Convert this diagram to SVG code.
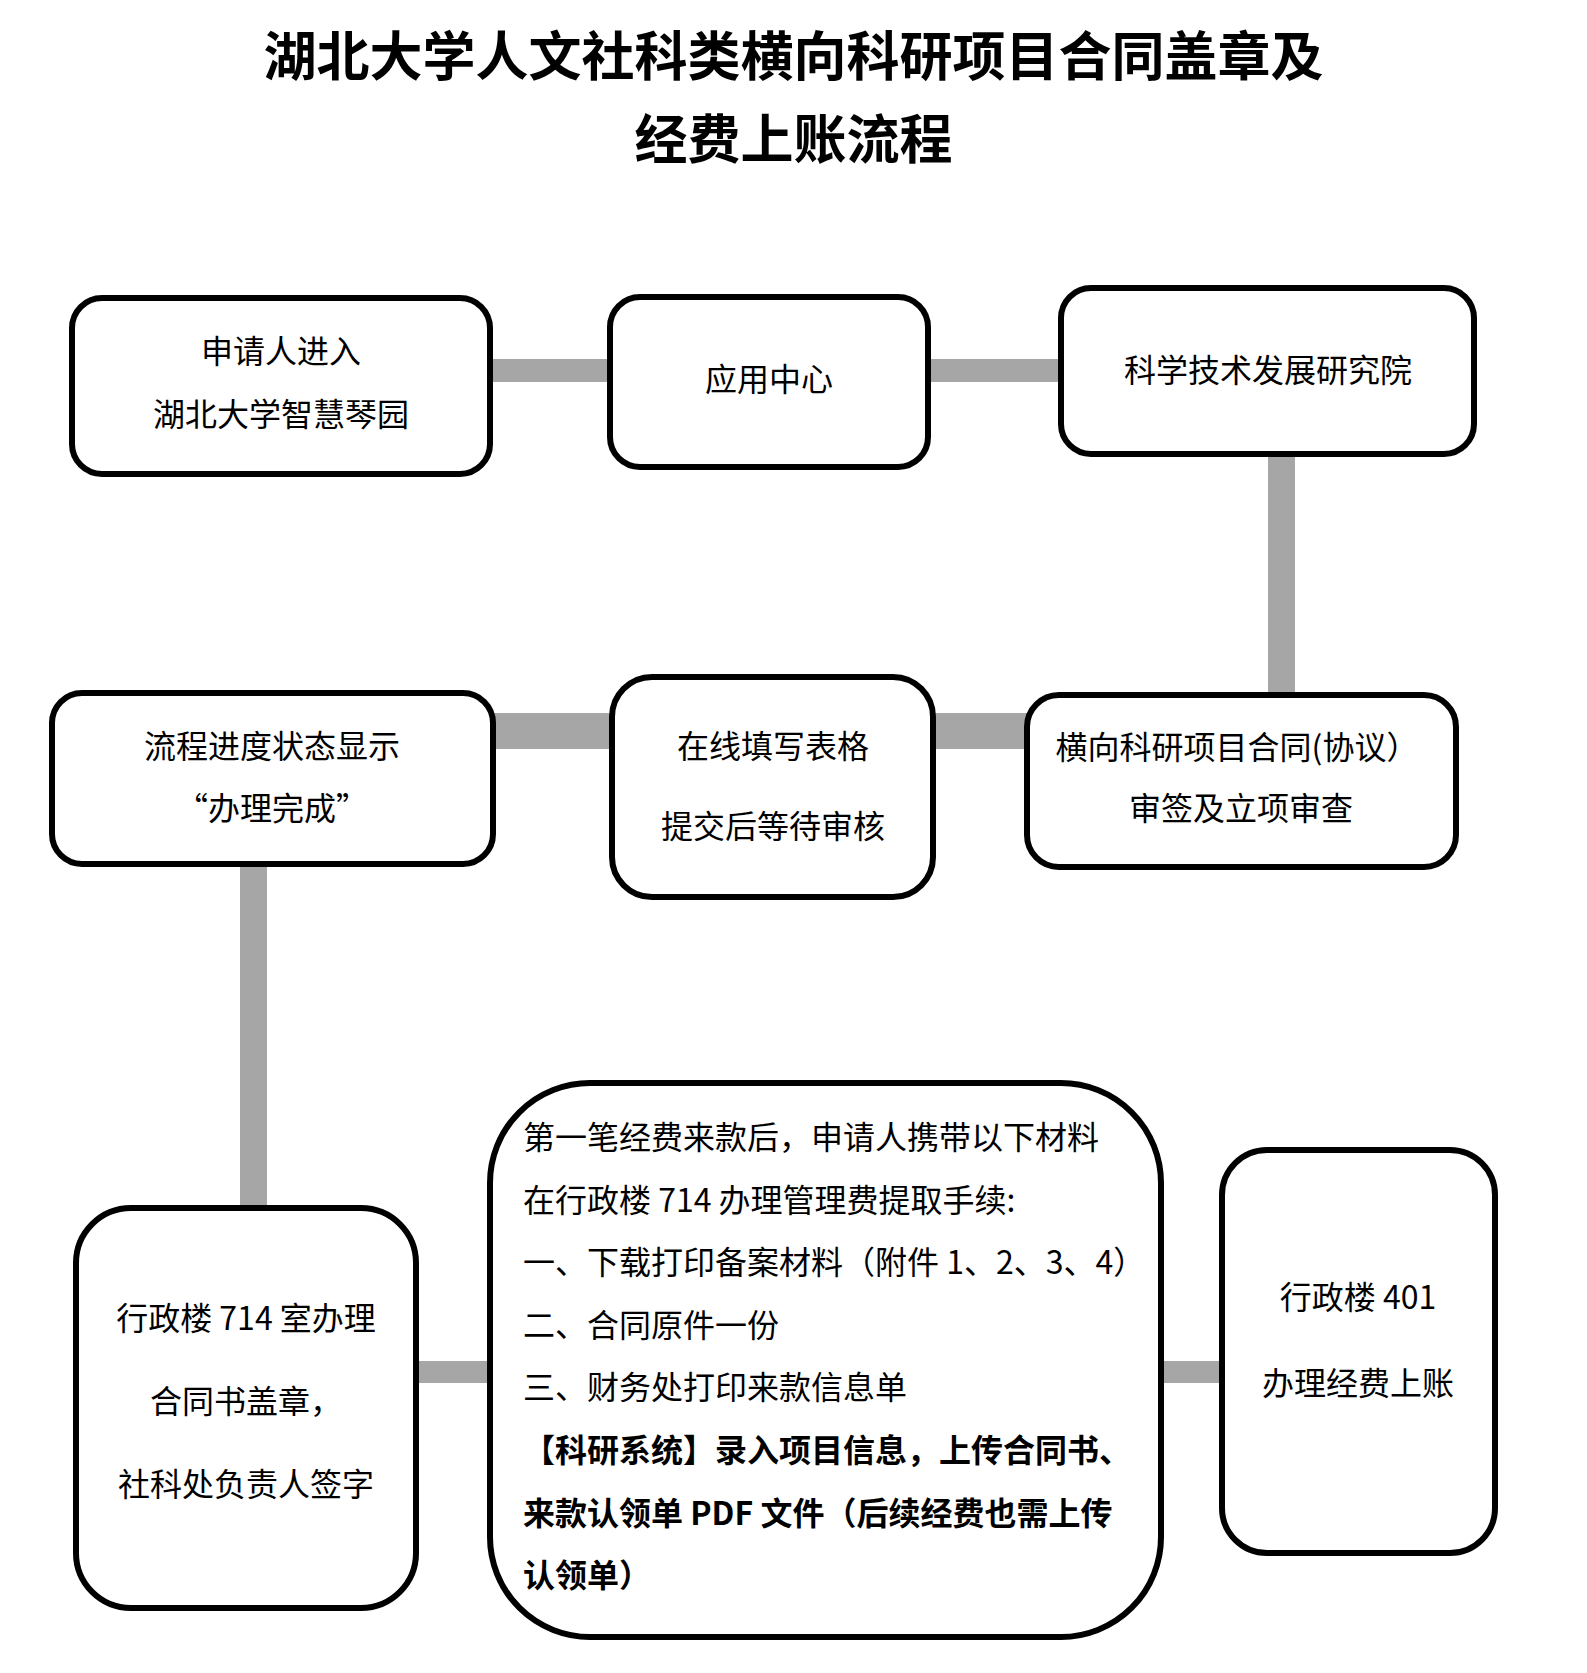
<svg xmlns="http://www.w3.org/2000/svg" width="1587" height="1673" viewBox="0 0 1587 1673">
<style>
.bg{fill:#ffffff}
.box{fill:#ffffff;stroke:#000000;stroke-width:6}
.con{fill:#a6a6a6}
.t{font-family:"Noto Sans CJK SC","Noto Sans",sans-serif;font-size:32px;fill:#000000}
.c{text-anchor:middle}
.b{font-weight:bold}
.title{font-family:"Noto Sans CJK SC","Noto Sans",sans-serif;font-size:53px;font-weight:bold;fill:#000000;text-anchor:middle}
</style>
<rect class="bg" x="0" y="0" width="1587" height="1673"/>
<g id="title">
<text class="title" x="793.5" y="76">湖北大学人文社科类横向科研项目合同盖章及</text>
<text class="title" x="793.5" y="159">经费上账流程</text>
</g>
<g id="connectors">
<rect class="con" x="490" y="359" width="120" height="23"/>
<rect class="con" x="928" y="359" width="133" height="23"/>
<rect class="con" x="1268" y="454" width="27" height="241"/>
<rect class="con" x="493" y="713" width="119" height="36"/>
<rect class="con" x="933" y="713" width="94" height="36"/>
<rect class="con" x="240" y="864" width="27" height="344"/>
<rect class="con" x="416" y="1361" width="74" height="22"/>
<rect class="con" x="1161" y="1361" width="61" height="22"/>
</g>
<g id="node1">
<rect class="box" x="72" y="298" width="418" height="176" rx="30"/>
<text class="t c" x="281" y="363">申请人进入</text>
<text class="t c" x="281" y="426">湖北大学智慧琴园</text>
</g>
<g id="node2">
<rect class="box" x="610" y="297" width="318" height="170" rx="30"/>
<text class="t c" x="769" y="391">应用中心</text>
</g>
<g id="node3">
<rect class="box" x="1061" y="288" width="413" height="166" rx="30"/>
<text class="t c" x="1268" y="382">科学技术发展研究院</text>
</g>
<g id="node4">
<rect class="box" x="52" y="693" width="441" height="171" rx="30"/>
<text class="t c" x="272" y="758">流程进度状态显示</text>
<text class="t c" x="272" y="820">“办理完成”</text>
</g>
<g id="node5">
<rect class="box" x="612" y="677" width="321" height="220" rx="40"/>
<text class="t c" x="773" y="758">在线填写表格</text>
<text class="t c" x="773" y="838">提交后等待审核</text>
</g>
<g id="node6">
<rect class="box" x="1027" y="695" width="429" height="172" rx="32"/>
<text class="t c" x="1237" y="759">横向科研项目合同(协议）</text>
<text class="t c" x="1241" y="820">审签及立项审查</text>
</g>
<g id="node7">
<rect class="box" x="76" y="1208" width="340" height="400" rx="55"/>
<text class="t c" x="246" y="1330">行政楼 714 室办理</text>
<text class="t c" x="246" y="1413">合同书盖章，</text>
<text class="t c" x="246" y="1496">社科处负责人签字</text>
</g>
<g id="node8">
<rect class="box" x="490" y="1083" width="671" height="554" rx="100"/>
<text class="t" x="523" y="1149">第一笔经费来款后，申请人携带以下材料</text>
<text class="t" x="523" y="1212">在行政楼 714 办理管理费提取手续:</text>
<text class="t" x="523" y="1274">一、下载打印备案材料（附件 1、2、3、4）</text>
<text class="t" x="523" y="1337">二、合同原件一份</text>
<text class="t" x="523" y="1399">三、财务处打印来款信息单</text>
<text class="t b" x="523" y="1462">【科研系统】录入项目信息，上传合同书、</text>
<text class="t b" x="523" y="1525">来款认领单 PDF 文件（后续经费也需上传</text>
<text class="t b" x="523" y="1587">认领单）</text>
</g>
<g id="node9">
<rect class="box" x="1222" y="1150" width="273" height="403" rx="45"/>
<text class="t c" x="1358" y="1309">行政楼 401</text>
<text class="t c" x="1358" y="1395">办理经费上账</text>
</g>
</svg>
